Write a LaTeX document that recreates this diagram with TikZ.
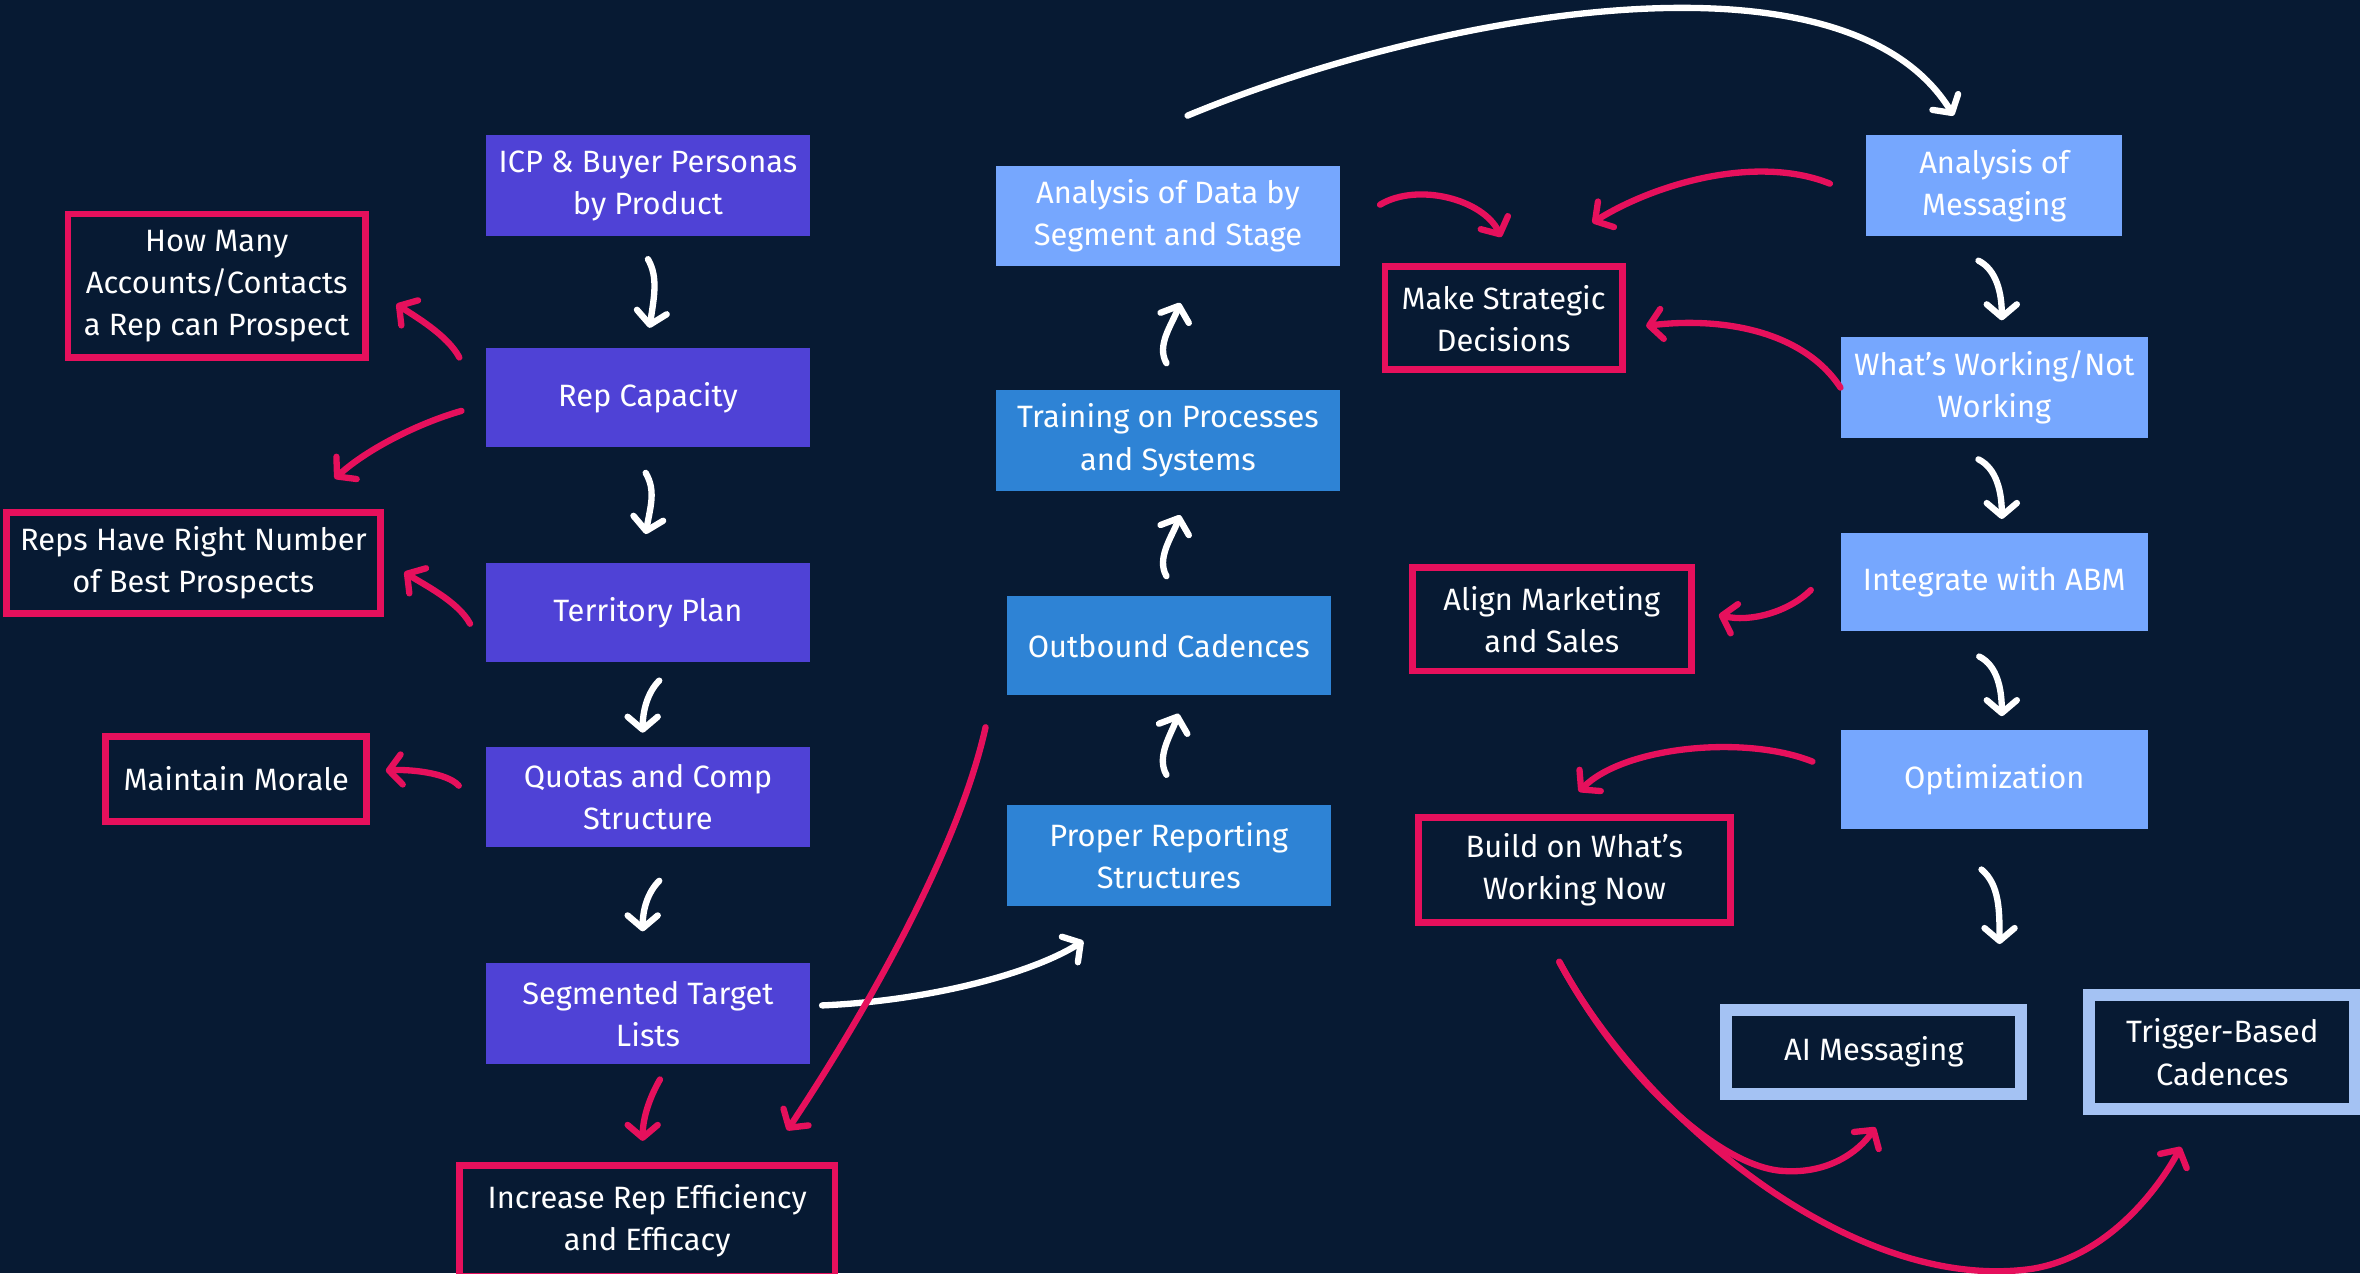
\documentclass[tikz,border=0pt]{standalone}
\usepackage{fontspec}
\setmainfont{Fira Sans}
\usetikzlibrary{arrows.meta,calc}
\definecolor{bg}{HTML}{071A33}
\definecolor{purp}{HTML}{4F42D6}
\definecolor{lblue}{HTML}{76A7FE}
\definecolor{mblue}{HTML}{2E83D5}
\definecolor{hot}{HTML}{E6105C}
\definecolor{edge}{HTML}{A4C2F3}

\begin{document}
\begin{tikzpicture}[x=1pt,y=-1pt,
  lbl/.style={text=white, align=center, font=\fontsize{20.5}{28}\selectfont, inner sep=0pt},
  fillbox/.style={lbl, fill=#1, draw=none},
  pinkbox/.style={lbl, draw=hot, line width=4.5pt, fill=bg},
  edgebox/.style={lbl, draw=edge, line width=8pt, fill=bg},
  barb/.style={-{Straight Barb[round,length=8.5pt,width=20pt]}},
  warr/.style={draw=white, line width=4.2pt, line cap=round, barb},
  parr/.style={draw=hot, line width=4.2pt, line cap=round, barb},
]
\useasboundingbox (0,0) rectangle (1568,846);
\clip (0,0) rectangle (1568,846);
\fill[bg] (0,0) rectangle (1568,846);

% left column: sales planning chain
\node[fillbox=purp, minimum width=215pt, minimum height=67pt] (icp) at (430.5,123.5) {ICP \& Buyer Personas\\by Product};
\node[fillbox=purp, minimum width=215pt, minimum height=66pt] (repcap) at (430.5,264) {Rep Capacity};
\node[fillbox=purp, minimum width=215pt, minimum height=66pt] (terr) at (430.5,407) {Territory Plan};
\node[fillbox=purp, minimum width=215pt, minimum height=67pt] (quota) at (430.5,529.5) {Quotas and Comp\\Structure};
\node[fillbox=purp, minimum width=215pt, minimum height=67pt] (seg) at (430.5,673.5) {Segmented Target\\Lists};

% outcomes of the left column
\node[pinkbox, minimum width=197.5pt, minimum height=95.5pt] (howmany) at (144,190) {How Many\\Accounts/Contacts\\a Rep can Prospect};
\node[pinkbox, minimum width=248.5pt, minimum height=67.5pt] (reps) at (128.5,374) {Reps Have Right Number\\of Best Prospects};
\node[pinkbox, minimum width=173.5pt, minimum height=56.5pt] (morale) at (157,517.5) {Maintain Morale};
\node[pinkbox, minimum width=249.5pt, minimum height=73.5pt] (increase) at (430,811) {Increase Rep Efficiency\\and Efficacy};

% middle column: enablement chain
\node[fillbox=lblue, minimum width=228pt, minimum height=67pt] (data) at (776,143.5) {Analysis of Data by\\Segment and Stage};
\node[fillbox=mblue, minimum width=228pt, minimum height=67pt] (train) at (776,292.5) {Training on Processes\\and Systems};
\node[fillbox=mblue, minimum width=215pt, minimum height=66pt] (outb) at (776.5,429) {Outbound Cadences};
\node[fillbox=mblue, minimum width=215pt, minimum height=67pt] (report) at (776.5,568.5) {Proper Reporting\\Structures};

% right column: messaging chain
\node[fillbox=lblue, minimum width=170pt, minimum height=67pt] (amsg) at (1325,123.5) {Analysis of\\Messaging};
\node[fillbox=lblue, minimum width=204pt, minimum height=67pt] (working) at (1325,257.5) {What’s Working/Not\\Working};
\node[fillbox=lblue, minimum width=204pt, minimum height=65pt] (abm) at (1325,386.5) {Integrate with ABM};
\node[fillbox=lblue, minimum width=204pt, minimum height=66pt] (optim) at (1325,518) {Optimization};

% outcomes of the right column
\node[pinkbox, minimum width=157.5pt, minimum height=68.5pt] (strat) at (999,211.5) {Make Strategic\\Decisions};
\node[pinkbox, minimum width=185.5pt, minimum height=68.5pt] (align) at (1031,411.5) {Align Marketing\\and Sales};
\node[pinkbox, minimum width=207.5pt, minimum height=69.5pt] (build) at (1046,578) {Build on What’s\\Working Now};
\node[edgebox, minimum width=196pt, minimum height=56pt] (aimsg) at (1245,699) {AI Messaging};
\node[edgebox, minimum width=177pt, minimum height=76pt] (trigger) at (1476.5,699) {Trigger-Based\\Cadences};

% white flow arrows, left column
\draw[warr] ($(icp.south)+(0,15)$) .. controls +(7,12) and +(3,-20) .. ($(repcap.north)+(1,-13)$);
\draw[warr] ($(repcap.south)+(-1.5,17)$) .. controls +(7,12) and +(3,-18) .. ($(terr.north)+(-1.5,-19)$);
\draw[warr] ($(terr.south)+(7.5,12)$) .. controls +(-8,8) and +(0,-14) .. ($(quota.north)+(-3.5,-9)$);
\draw[warr] ($(quota.south)+(7.5,22)$) .. controls +(-8,8) and +(0,-14) .. ($(seg.north)+(-3.5,-21)$);
\draw[warr] ($(seg.east)+(8,-5.5)$) .. controls +(70,-3) and +(-35,22) .. ($(report.south west)+(51,23)$);

% white flow arrows, middle column (upwards)
\draw[warr] ($(train.north)+(-1,-17.5)$) .. controls +(-7,-12) and +(-5,14) .. ($(data.south)+(8,24)$);
\draw[warr] ($(outb.north)+(-1.5,-13)$) .. controls +(-7,-12) and +(-5,14) .. ($(train.south)+(8,16)$);
\draw[warr] ($(report.north)+(-1.5,-20)$) .. controls +(-7,-12) and +(-5,14) .. ($(outb.south)+(6.5,12)$);
\draw[warr] ($(data.north)+(13,-33)$) .. controls (950,10) and (1225,-42) .. ($(amsg.north)+(-27,-13)$);

% white flow arrows, right column
\draw[warr] ($(amsg.south)+(-10.5,16)$) .. controls +(12,6) and +(0,-18) .. ($(working.north)+(5,-11)$);
\draw[warr] ($(working.south)+(-10.5,14)$) .. controls +(12,6) and +(0,-18) .. ($(abm.north)+(5,-9)$);
\draw[warr] ($(abm.south)+(-10,17)$) .. controls +(12,6) and +(0,-18) .. ($(optim.north)+(5,-9)$);
\draw[warr] ($(optim.south)+(-8.5,26.5)$) .. controls +(12,10) and +(0,-22) .. ($(optim.south)+(3.5,76)$);

% pink outcome arrows, left
\draw[parr] ($(repcap.west)+(-17.6,-26.5)$) .. controls +(-8,-15) and +(12,8) .. ($(howmany.east)+(18.4,12)$);
\draw[parr] ($(repcap.west)+(-16.2,9)$) .. controls +(-28,8) and +(22,-20) .. ($(reps.north east)+(-32.6,-20)$);
\draw[parr] ($(terr.west)+(-10.5,7.4)$) .. controls +(-8,-15) and +(12,8) .. ($(reps.east)+(13.7,6)$);
\draw[parr] ($(quota.west)+(-18,-7.5)$) .. controls +(-8,-9) and +(14,-1) .. ($(morale.east)+(10.3,-5.5)$);
\draw[parr] ($(seg.south)+(8,10)$) .. controls +(-7,12) and +(0,-15) .. ($(increase.north)+(-3,-14)$);
\draw[parr] ($(outb.south west)+(-14,21)$) .. controls +(-20,90) and +(40,-60) .. ($(increase.north east)+(-34,-21)$);

% pink outcome arrows, right
\draw[parr] ($(data.east)+(26.7,-7.5)$) .. controls +(25,-15) and +(-12,-25) .. ($(strat.north)+(-1.6,-17.5)$);
\draw[parr] ($(amsg.west)+(-24,-1.5)$) .. controls +(-50,-20) and +(40,-25) .. ($(strat.north)+(59,-27)$);
\draw[parr] ($(working.west)+(0,0)$) .. controls +(-25,-38) and +(50,-6) .. ($(strat.east)+(13.7,5)$);
\draw[parr] ($(abm.west)+(-19.7,5.5)$) .. controls +(-15,15) and +(20,5) .. ($(align.east)+(16,-3)$);
\draw[parr] ($(optim.west)+(-18.6,-12)$) .. controls +(-45,-18) and +(30,-30) .. ($(build.north)+(3,-15)$);
\draw[parr] ($(build.south)+(-10,24)$) .. controls +(44,81) and +(-40,-2) .. (1185,778) .. controls +(30,2) and +(-11,16) .. ($(aimsg.south)+(1,18)$);
\draw[parr] ($(build.south)+(-10,24)$) .. controls +(54,101) and +(-120,17) .. (1350,843) .. controls +(50,-8) and +(-15,28) .. ($(trigger.south)+(-27.5,21)$);
\end{tikzpicture}
\end{document}
